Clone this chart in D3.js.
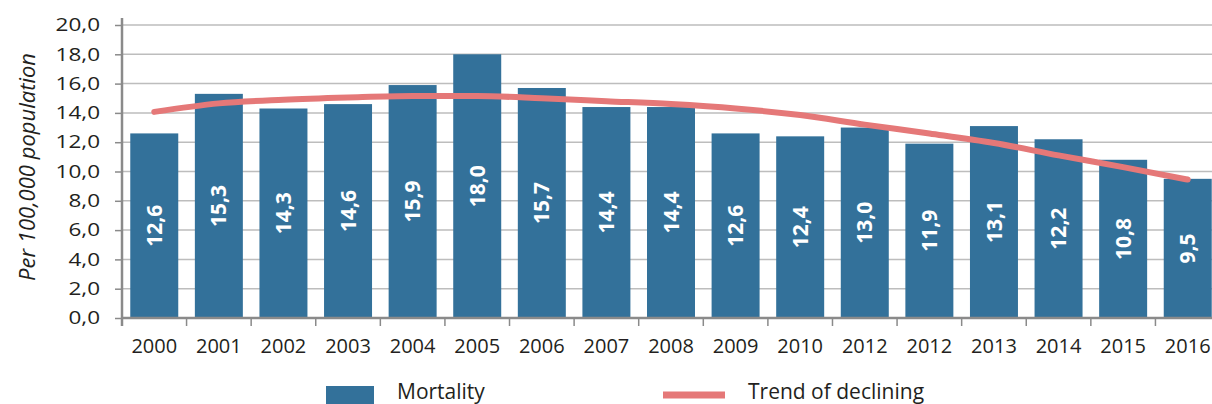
<!DOCTYPE html>
<html>
<head>
<meta charset="utf-8">
<script src="https://cdn.jsdelivr.net/npm/d3@7"></script>
<style>
  body { margin: 0; background: #fff; }
  svg { display: block; font-family: "Open Sans", "Noto Sans", sans-serif; }
</style>
</head>
<body>
<svg id="chart" width="1212" height="404"></svg>
<script>
// data
var years = ["2000", "2001", "2002", "2003", "2004", "2005", "2006", "2007", "2008",
             "2009", "2010", "2012", "2012", "2013", "2014", "2015", "2016"];
var mortality = [12.6, 15.3, 14.3, 14.6, 15.9, 18.0, 15.7, 14.4, 14.4,
                 12.6, 12.4, 13.0, 11.9, 13.1, 12.2, 10.8, 9.5];
var trend = [14.07, 14.65, 14.9, 15.05, 15.15, 15.15, 15.0, 14.8, 14.6,
             14.3, 13.85, 13.2, 12.6, 11.95, 11.1, 10.3, 9.45];
var yTicks = [0, 2, 4, 6, 8, 10, 12, 14, 16, 18, 20];

var barColor = "#33719a";
var trendColor = "#e57878";
var textColor = "#231f20";

var svg = d3.select("#chart");

var x = d3.scaleBand()
    .domain(d3.range(years.length))
    .range([122, 1220])
    .paddingInner(0.257)
    .paddingOuter(0.128);

var y = d3.scaleLinear()
    .domain([0, 20])
    .range([318, 25]);

var fmt = function(v) { return d3.format(".1f")(v).replace(".", ","); };

// gridlines
svg.append("g")
    .selectAll("line")
    .data(yTicks.slice(1))
    .enter().append("line")
    .attr("x1", 122).attr("x2", 1212)
    .attr("y1", function(d) { return y(d); })
    .attr("y2", function(d) { return y(d); })
    .attr("stroke", "#bdbdbd")
    .attr("stroke-width", 1.5);

// y axis
var yAxis = svg.append("g")
    .attr("transform", "translate(122,0)")
    .call(d3.axisLeft(y).tickValues(yTicks).tickSize(7).tickFormat(fmt));
yAxis.select(".domain").remove();
yAxis.selectAll(".tick line").attr("stroke", "#8a8a8a").attr("stroke-width", 1.5);
// the reference's tick labels are drawn wide, so stretch them
yAxis.selectAll(".tick text")
    .attr("x", 0)
    .attr("transform", "translate(-22,0) scale(1.25,1)")
    .attr("fill", textColor)
    .attr("font-size", "18px")
    .attr("font-family", "Open Sans");

// bars
svg.append("g")
    .selectAll("rect")
    .data(mortality)
    .enter().append("rect")
    .attr("x", function(d, i) { return x(i); })
    .attr("y", function(d) { return y(d); })
    .attr("width", x.bandwidth())
    .attr("height", function(d) { return y(0) - y(d); })
    .attr("fill", barColor);

// bar labels
svg.append("g")
    .selectAll("text")
    .data(mortality)
    .enter().append("text")
    .attr("transform", function(d, i) {
        var cx = x(i) + x.bandwidth() / 2;
        var cy = (y(d) + y(0)) / 2;
        return "translate(" + cx + "," + cy + ") rotate(-90)";
    })
    .attr("text-anchor", "middle")
    .attr("dy", "0.36em")
    .attr("fill", "#fff")
    .attr("font-size", "21px")
    .attr("font-weight", "bold")
    .text(fmt);

// x axis
var xAxis = svg.append("g")
    .attr("transform", "translate(0,318)");
xAxis.append("line")
    .attr("x1", 122).attr("x2", 1212)
    .attr("stroke", "#8a8a8a").attr("stroke-width", 2.5);
xAxis.selectAll(".tk")
    .data(d3.range(years.length))
    .enter().append("line")
    .attr("class", "tk")
    .attr("x1", function(i) { return x(i) - x.step() * x.paddingInner() / 2; })
    .attr("x2", function(i) { return x(i) - x.step() * x.paddingInner() / 2; })
    .attr("y1", 0).attr("y2", 8)
    .attr("stroke", "#8a8a8a").attr("stroke-width", 1.5);
xAxis.selectAll(".lbl")
    .data(years)
    .enter().append("text")
    .attr("class", "lbl")
    .attr("x", function(d, i) { return x(i) + x.bandwidth() / 2; })
    .attr("y", 35)
    .attr("text-anchor", "middle")
    .attr("fill", textColor)
    .attr("font-size", "20px")
    .text(function(d) { return d; });

// y axis line
svg.append("line")
    .attr("x1", 122).attr("x2", 122)
    .attr("y1", 18).attr("y2", 326)
    .attr("stroke", "#8a8a8a").attr("stroke-width", 2.5);

// trend line
var line = d3.line()
    .x(function(d, i) { return x(i) + x.bandwidth() / 2; })
    .y(function(d) { return y(d); })
    .curve(d3.curveMonotoneX);

svg.append("path")
    .datum(trend)
    .attr("d", line)
    .attr("fill", "none")
    .attr("stroke", trendColor)
    .attr("stroke-width", 6)
    .attr("stroke-linecap", "round");

// y title
svg.append("text")
    .attr("transform", "translate(35,167) rotate(-90)")
    .attr("text-anchor", "middle")
    .attr("fill", textColor)
    .attr("font-size", "22px")
    .attr("font-style", "italic")
    .text("Per 100,000 population");

// legend
var legend = svg.append("g");
legend.append("rect")
    .attr("x", 326).attr("y", 386)
    .attr("width", 48).attr("height", 20)
    .attr("fill", barColor);
legend.append("text")
    .attr("x", 397).attr("y", 399)
    .attr("fill", textColor)
    .attr("font-size", "21px")
    .text("Mortality");
legend.append("line")
    .attr("x1", 663).attr("x2", 725)
    .attr("y1", 395).attr("y2", 395)
    .attr("stroke", trendColor)
    .attr("stroke-width", 7);
legend.append("text")
    .attr("x", 748).attr("y", 399)
    .attr("fill", textColor)
    .attr("font-size", "21px")
    .text("Trend of declining");
</script>
</body>
</html>
